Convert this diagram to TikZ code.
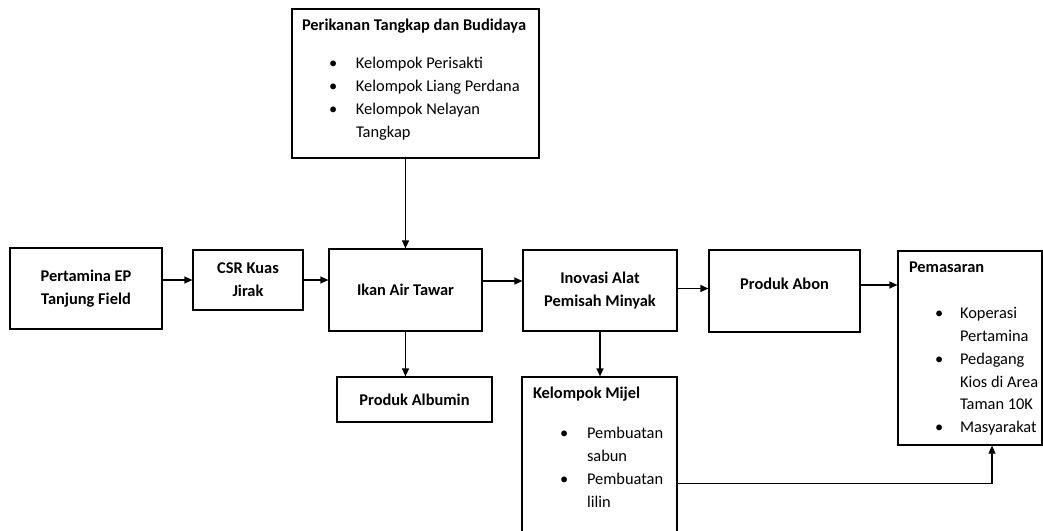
\documentclass[tikz,border=0pt]{standalone}
\usepackage{fontspec}
\setmainfont{Carlito}
\usetikzlibrary{arrows.meta}

\tikzset{kotak/.style = {draw, line width=1.2pt, inner sep=0pt, align=center,
                         font=\fontsize{16.4}{23}\selectfont\bfseries},
         daftar/.style = {draw, line width=1.2pt, inner sep=0pt,
                          font=\fontsize{16.4}{22.8}\selectfont},
         panah/.style = {line width=1.2pt, -{Triangle[length=8pt,width=7pt]}}
        }

\begin{document}
\begin{tikzpicture}[x=1pt, y=-1pt]
  \useasboundingbox (0,0) rectangle (1043,530);
  \clip (0,0) rectangle (1043,530);

  % baris utama
  \node[kotak, minimum width=152, minimum height=81] (pertamina) at (86,288.5) {Pertamina EP\\Tanjung Field};
  \node[kotak, minimum width=110, minimum height=60] (csr) at (248,280) {CSR Kuas\\Jirak};
  \node[kotak, minimum width=153, minimum height=82] (ikan) at (405.5,290) {Ikan Air Tawar};
  \node[kotak, minimum width=154, minimum height=81] (inovasi) at (600,290.5) {Inovasi Alat\\Pemisah Minyak};
  \node[kotak, minimum width=151, minimum height=82, text depth=14pt] (abon) at (784.5,291) {Produk Abon};
  \node[kotak, minimum width=155, minimum height=45] (albumin) at (414.5,399.5) {Produk Albumin};

  % kotak dengan daftar
  \node[daftar] (perikanan) at (415.5,83.5) {\parbox[c][149pt][t]{247pt}{%
    \vspace*{6pt}\hspace*{10pt}\textbf{Perikanan Tangkap dan Budidaya}\strut\par\vspace{14pt}
    \hspace*{37pt}\begin{tabular}{@{}p{27pt}@{}l@{}}
      \textbullet & Kelompok Perisakti\\
      \textbullet & Kelompok Liang Perdana\\
      \textbullet & Kelompok Nelayan\\
                  & Tangkap
    \end{tabular}}};
  \node[daftar] (pemasaran) at (970,348) {\parbox[c][194pt][t]{144pt}{%
    \vspace*{6pt}\hspace*{11pt}\textbf{Pemasaran}\strut\par\vspace{22pt}
    \hspace*{37pt}\begin{tabular}{@{}p{25pt}@{}l@{}}
      \textbullet & Koperasi\\
                  & Pertamina\\
      \textbullet & Pedagang\\
                  & Kios di Area\\
                  & Taman 10K\\
      \textbullet & Masyarakat
    \end{tabular}}};
  \node[daftar] (mijel) at (599.5,463.5) {\parbox[c][173pt][t]{155pt}{%
    \vspace*{6pt}\hspace*{11pt}\textbf{Kelompok Mijel}\strut\par\vspace{16pt}
    \hspace*{38pt}\begin{tabular}{@{}p{27pt}@{}l@{}}
      \textbullet & Pembuatan\\
                  & sabun\\
      \textbullet & Pembuatan\\
                  & lilin
    \end{tabular}}};

  % panah
  \draw[panah] (csr.west -| pertamina.east) -- (csr.west);
  \draw[panah] (csr.east) -- (csr.east -| ikan.west);
  \draw[panah] ([yshift=9pt]ikan.east) -- ([yshift=9pt]ikan.east -| inovasi.west);
  \draw[panah] ([yshift=2pt]inovasi.east) -- ([yshift=2pt]inovasi.east -| abon.west);
  \draw[panah] ([yshift=6pt]abon.east) -- ([yshift=6pt]abon.east -| pemasaran.west);
  \draw[panah] (perikanan.south -| ikan.north) -- (ikan.north);
  \draw[panah] (ikan.south) -- (ikan.south |- albumin.north);
  \draw[panah] (inovasi.south) -- (inovasi.south |- mijel.north);
  \draw[panah] ([yshift=-20pt]mijel.east) -| ([xshift=22pt]pemasaran.south);
\end{tikzpicture}
\end{document}
